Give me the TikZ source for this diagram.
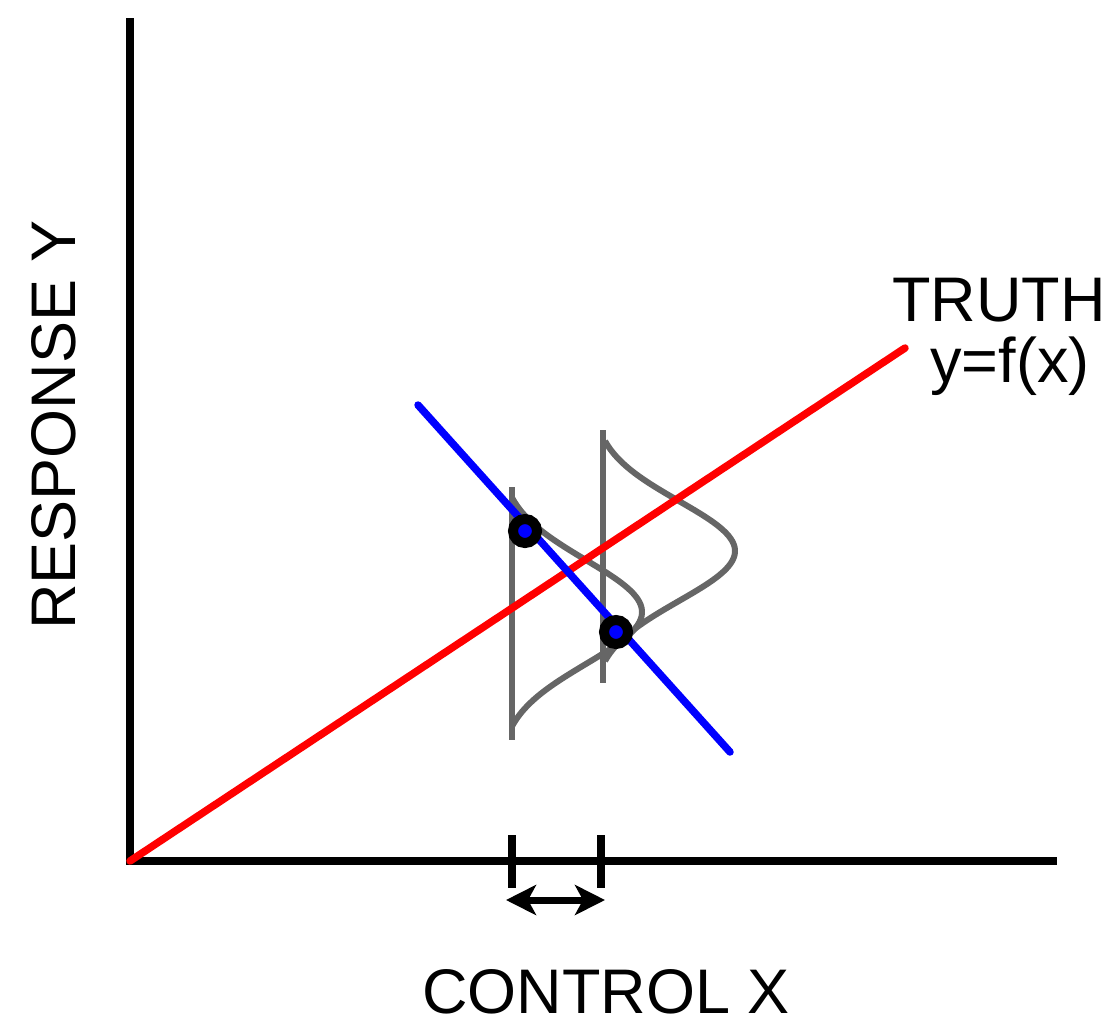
\documentclass[tikz,border=0pt]{standalone}
\usepackage{fontspec}
\setmainfont{Liberation Sans}
\usetikzlibrary{arrows.meta}
\begin{document}
\begin{tikzpicture}[x=1pt,y=-1pt,
  axis/.style={line width=8pt,black},
  truthline/.style={line width=7.5pt,red,line cap=round},
  fitline/.style={line width=7.5pt,blue,line cap=round},
  distr/.style={line width=6pt,black!60},
  datadot/.style={circle,fill=blue,draw=black,line width=10pt,minimum size=24pt,inner sep=0pt},
  lbl/.style={font=\fontsize{63}{68}\selectfont,inner sep=0pt,anchor=base}]
\useasboundingbox (0,0) rectangle (1119,1029);
% axes
\coordinate (ytop) at (130,18);
\coordinate (origin) at (130,861);
\coordinate (xend) at (1057,861);
\draw[axis] (ytop) -- (130,865);
\draw[axis] (126,861) -- (xend);
% distributions
\coordinate (ltop) at (512,487);
\coordinate (lbot) at (512,740);
\coordinate (rtop) at (603,430);
\coordinate (rbot) at (603,683);
\draw[distr] (ltop) -- (lbot);
\draw[distr] (rtop) -- (rbot);
\draw[distr] plot[domain=-2.2:2.2,samples=80,smooth]
  ({512+130*(exp(-\x*\x/2)-0.089)/0.911},{612+52*\x});
\draw[distr] plot[domain=-2.2:2.2,samples=80,smooth]
  ({605+130*(exp(-\x*\x/2)-0.089)/0.911},{551+50*\x});
% lines
\coordinate (tend) at (905,348);
\draw[truthline] (origin) -- (tend);
\coordinate (fa) at (418,405);
\coordinate (fb) at (730,752);
\draw[fitline] (fa) -- (fb);
% data points
\node[datadot] (p1) at (525,531) {};
\node[datadot] (p2) at (616,632) {};
% interval
\coordinate (t1a) at (512,835);
\coordinate (t1b) at (512,888);
\coordinate (t2a) at (601,835);
\coordinate (t2b) at (601,888);
\draw[line width=8pt] (t1a) -- (t1b);
\draw[line width=8pt] (t2a) -- (t2b);
\coordinate (aL) at (506,900);
\coordinate (aR) at (605,900);
\draw[line width=7pt,{Stealth[length=30pt,width=30pt,inset=8pt]}-{Stealth[length=30pt,width=30pt,inset=8pt]}] (aL) -- (aR);
% labels
\node[lbl] (truth) at (999,321) {TRUTH};
\node[lbl] (fx) at (1010,382) {y=f(x)};
\node[lbl] (xlab) at (606,1013) {CONTROL X};
\node[lbl,rotate=90] (ylab) at (75,425) {RESPONSE Y};
\end{tikzpicture}
\end{document}
